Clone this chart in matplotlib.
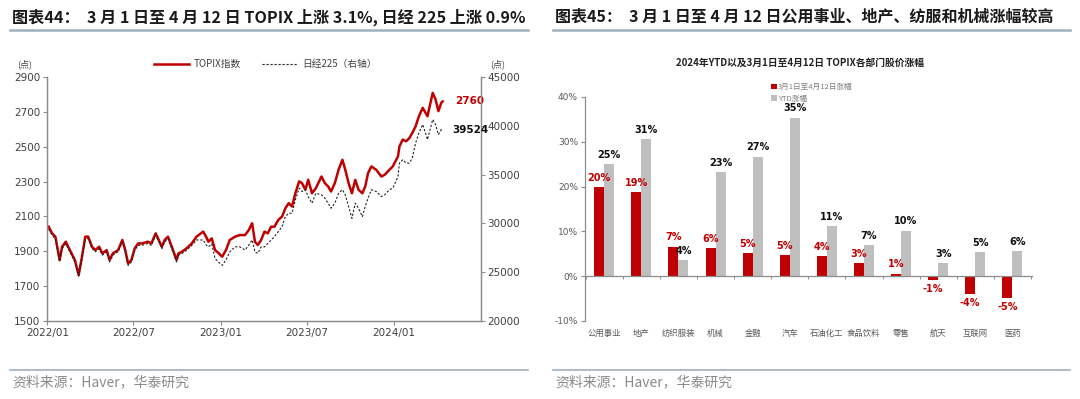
import matplotlib
matplotlib.use("Agg")
import matplotlib.pyplot as plt
import matplotlib.dates as mdates
import matplotlib.transforms as mtransforms
from matplotlib.lines import Line2D
import numpy as np
import pandas as pd

plt.rcParams['font.family'] = ['Noto Sans CJK SC', 'DejaVu Sans']
plt.rcParams['axes.unicode_minus'] = False

# ---- left chart: TOPIX vs Nikkei 225 ----
dates = [
    "2022-01-04", "2022-01-11", "2022-01-18", "2022-01-27", "2022-02-01", "2022-02-09",
    "2022-02-14", "2022-02-21", "2022-02-28", "2022-03-08", "2022-03-15", "2022-03-22",
    "2022-03-28", "2022-04-05", "2022-04-12", "2022-04-20", "2022-04-27", "2022-05-06",
    "2022-05-12", "2022-05-19", "2022-05-30", "2022-06-08", "2022-06-14", "2022-06-20",
    "2022-06-27", "2022-07-04", "2022-07-11", "2022-07-19", "2022-08-01", "2022-08-08",
    "2022-08-17", "2022-08-22", "2022-08-30", "2022-09-05", "2022-09-12", "2022-09-20",
    "2022-09-30", "2022-10-04", "2022-10-11", "2022-10-21", "2022-11-01", "2022-11-11",
    "2022-11-25", "2022-12-01", "2022-12-06", "2022-12-13", "2022-12-20", "2022-12-28",
    "2023-01-04", "2023-01-12", "2023-01-20", "2023-01-31", "2023-02-10", "2023-02-21",
    "2023-03-01", "2023-03-08", "2023-03-14", "2023-03-20", "2023-03-27", "2023-04-03",
    "2023-04-10", "2023-04-17", "2023-04-24", "2023-05-02", "2023-05-10", "2023-05-17",
    "2023-05-24", "2023-05-31", "2023-06-07", "2023-06-15", "2023-06-21", "2023-06-28",
    "2023-07-04", "2023-07-12", "2023-07-20", "2023-08-01", "2023-08-08", "2023-08-15",
    "2023-08-21", "2023-08-29", "2023-09-06", "2023-09-14", "2023-09-20", "2023-09-27",
    "2023-10-04", "2023-10-11", "2023-10-18", "2023-10-26", "2023-11-01", "2023-11-07",
    "2023-11-14", "2023-11-24", "2023-12-05", "2023-12-12", "2023-12-22", "2023-12-29",
    "2024-01-09", "2024-01-12", "2024-01-19", "2024-01-26", "2024-02-02", "2024-02-08",
    "2024-02-15", "2024-02-22", "2024-03-01", "2024-03-11", "2024-03-22", "2024-03-28",
    "2024-04-03", "2024-04-09", "2024-04-12",
]
topix = [
    2041, 2003, 1984, 1849, 1926, 1955, 1926, 1888, 1850, 1763, 1869, 1984,
    1984, 1926, 1907, 1926, 1888, 1907, 1850, 1888, 1907, 1965, 1907, 1830,
    1850, 1917, 1945, 1945, 1955, 1945, 2003, 1974, 1926, 1965, 1984, 1926,
    1850, 1888, 1897, 1917, 1945, 1984, 2013, 1984, 1955, 1974, 1907, 1888,
    1869, 1907, 1965, 1984, 1993, 1993, 2022, 2061, 1955, 1936, 1965, 2013,
    2003, 2041, 2041, 2080, 2099, 2147, 2176, 2157, 2233, 2301, 2291, 2253,
    2310, 2233, 2262, 2329, 2291, 2272, 2243, 2291, 2368, 2425, 2368, 2291,
    2233, 2310, 2253, 2233, 2272, 2349, 2387, 2368, 2329, 2339, 2368, 2387,
    2445, 2502, 2541, 2531, 2550, 2579, 2617, 2675, 2723, 2675, 2809, 2771,
    2704, 2752, 2760,
]
nikkei = [
    29400, 28800, 28400, 26100, 27400, 27900, 27400, 26750, 26050, 24600, 26400, 28400,
    28450, 27450, 27100, 27400, 26750, 27100, 26050, 26750, 27100, 28100, 27100, 25700,
    26050, 27250, 27750, 27750, 27950, 27750, 28800, 28300, 27400, 28100, 28450, 27400,
    26050, 26750, 26900, 27250, 27750, 28300, 28300, 27800, 27600, 27900, 26400, 26000,
    25700, 26250, 27090, 27600, 27600, 27270, 27790, 28300, 27090, 26930, 27600, 27600,
    27950, 28300, 28640, 29160, 29660, 30700, 31040, 31040, 32410, 33610, 33270, 33450,
    32750, 32070, 33090, 32930, 32590, 32070, 31550, 32070, 33090, 33450, 32930, 31730,
    30520, 32070, 31550, 30700, 31730, 32590, 33450, 33270, 32750, 32930, 33450, 33610,
    34800, 36180, 36520, 36180, 36180, 36700, 38230, 39270, 40130, 38590, 40640, 40130,
    39090, 39610, 39524,
]
date_ticks = ["2022-01-01", "2022-07-01", "2023-01-01", "2023-07-01", "2024-01-01"]

# ---- right chart: TOPIX sectors ----
sectors = ["公用事业", "地产", "纺织服装", "机械", "金融", "汽车",
           "石油化工", "食品饮料", "零售", "航天", "互联网", "医药"]
chg_mar_apr = [19.8, 18.7, 6.6, 6.2, 5.1, 4.7, 4.4, 2.9, 0.6, -0.8, -4.0, -4.9]
chg_ytd = [25.0, 30.6, 3.6, 23.2, 26.7, 35.4, 11.1, 7.0, 10.2, 3.0, 5.4, 5.6]

RED = "#C00000"
GRAY_BAR = "#BFBFBF"
AXIS = "#8c8c8c"
TXT = "#404040"
RULE = "#9fb0c0"

fig = plt.figure(figsize=(10.8, 3.99), dpi=100)

# titles and rules
fig.text(12 / 1080, 1 - 17 / 399, "图表44：  3 月 1 日至 4 月 12 日 TOPIX 上涨 3.1%, 日经 225 上涨 0.9%",
         fontsize=11.6, fontweight="bold", color="#1a1a1a", va="center", ha="left")
fig.text(555 / 1080, 1 - 17 / 399, "图表45：  3 月 1 日至 4 月 12 日公用事业、地产、纺服和机械涨幅较高",
         fontsize=11.5, fontweight="bold", color="#1a1a1a", va="center", ha="left")
for x0, x1 in [(10, 528), (553, 1070)]:
    fig.add_artist(Line2D([x0 / 1080, x1 / 1080], [1 - 30 / 399] * 2, color=RULE, lw=1.8))
    fig.add_artist(Line2D([x0 / 1080, x1 / 1080], [1 - 370 / 399] * 2, color=RULE, lw=1.2))
fig.text(12 / 1080, 1 - 382 / 399, "资料来源：Haver，华泰研究", fontsize=10, color="#8a8a8a",
         va="center", ha="left")
fig.text(555 / 1080, 1 - 382 / 399, "资料来源：Haver，华泰研究", fontsize=10, color="#8a8a8a",
         va="center", ha="left")

# ---------- left panel ----------
dt = pd.to_datetime(dates)
ax1 = fig.add_axes([47.3 / 1080, 1 - 321 / 399, (480.7 - 47.3) / 1080, (321 - 77) / 399])
ax1.plot(dt, topix, color=RED, lw=1.8, label="TOPIX指数")
ax1.set_ylim(1500, 2900)
ax1.set_yticks(np.arange(1500, 2901, 200))
ax1.set_xlim(pd.Timestamp("2022-01-01"), pd.Timestamp("2024-07-01"))
ax1.set_xticks(pd.to_datetime(date_ticks))
ax1.xaxis.set_major_formatter(mdates.DateFormatter("%Y/%m"))

ax2 = ax1.twinx()
ax2.plot(dt, nikkei, color="#222222", lw=0.8, dashes=(2, 1.6), label="日经225（右轴）")
ax2.set_ylim(20000, 45000)
ax2.set_yticks(np.arange(20000, 45001, 5000))

for a in (ax1, ax2):
    a.spines["top"].set_visible(False)
    for s in ("left", "right", "bottom"):
        a.spines[s].set_color(AXIS)
        a.spines[s].set_linewidth(0.9)
    a.tick_params(labelsize=7.5, colors=AXIS, labelcolor=TXT, length=3, width=0.8, pad=2)
    for lab in a.get_xticklabels() + a.get_yticklabels():
        lab.set_family(["DejaVu Sans"])

ax1.annotate(f"{topix[-1]}", xy=(dt[-1], topix[-1]), xytext=(9, 0), textcoords="offset points",
             color=RED, fontsize=7.5, fontweight="bold", va="center", ha="left", family=["DejaVu Sans"])
ax2.annotate(f"{nikkei[-1]}", xy=(dt[-1], nikkei[-1]), xytext=(7, 0), textcoords="offset points",
             color="#111111", fontsize=7.5, fontweight="bold", va="center", ha="left", family=["DejaVu Sans"])

h1, l1 = ax1.get_legend_handles_labels()
h2, l2 = ax2.get_legend_handles_labels()
fig.legend(h1 + h2, l1 + l2, loc="center", bbox_to_anchor=(265 / 1080, 1 - 64 / 399), ncol=2,
           frameon=False, fontsize=7, handlelength=3.6, columnspacing=2.2, handletextpad=0.5,
           labelcolor=TXT)
fig.text(17 / 1080, 1 - 64 / 399, "(点)", fontsize=6.5, color=TXT, va="center", ha="left")
fig.text(490 / 1080, 1 - 64 / 399, "(点)", fontsize=6.5, color=TXT, va="center", ha="left")

# ---------- right panel ----------
ax3 = fig.add_axes([585 / 1080, 1 - 321 / 399, (1032 - 585) / 1080, (321 - 97) / 399])
x = np.arange(len(sectors))
w = 0.27
b1 = ax3.bar(x - w / 2, chg_mar_apr, width=w, color=RED, label="3月1日至4月12日涨幅", zorder=2)
b2 = ax3.bar(x + w / 2, chg_ytd, width=w, color=GRAY_BAR, label="YTD涨幅", zorder=2)
ax3.bar_label(b1, labels=[f"{v:.0f}%" for v in chg_mar_apr], padding=3, color=RED,
              fontsize=7, fontweight="bold", family=["DejaVu Sans"])
ax3.bar_label(b2, labels=[f"{v:.0f}%" for v in chg_ytd], padding=3, color="#111111",
              fontsize=7, fontweight="bold", family=["DejaVu Sans"])

ax3.set_ylim(-10, 40)
ax3.set_yticks(np.arange(-10, 41, 10))
ax3.set_yticklabels([f"{v}%" for v in range(-10, 41, 10)], family=["DejaVu Sans"])
ax3.set_xlim(-0.52, 11.53)
ax3.spines["top"].set_visible(False)
ax3.spines["right"].set_visible(False)
ax3.spines["bottom"].set_position(("data", 0))
for s in ("left", "bottom"):
    ax3.spines[s].set_color(AXIS)
    ax3.spines[s].set_linewidth(0.9)
ax3.set_xticks(x)
ax3.set_xticklabels([])
ax3.tick_params(axis="x", which="major", length=0)
ax3.set_xticks(np.arange(-0.5, len(sectors), 1), minor=True)
ax3.tick_params(axis="x", which="minor", length=2.5, width=0.7, colors=AXIS, direction="out")
ax3.tick_params(axis="y", labelsize=6.5, colors=AXIS, labelcolor="#595959", length=3, width=0.8, pad=2)

trans = mtransforms.blended_transform_factory(ax3.transData, ax3.transAxes)
for xi, name in zip(x, sectors):
    ax3.text(xi, -0.054, name, transform=trans, ha="center", va="center", fontsize=6,
             color="#595959")

fig.text(800 / 1080, 1 - 63 / 399, "2024年YTD以及3月1日至4月12日 TOPIX各部门股价涨幅",
         fontsize=7, fontweight="bold", color="#222222", ha="center", va="center")
fig.legend(handles=[b1, b2], loc="upper left", bbox_to_anchor=(766 / 1080, 1 - 78 / 399),
           frameon=False, fontsize=5.5, handlelength=0.7, handleheight=0.7, handletextpad=0.2,
           labelspacing=0.45, borderpad=0.2, labelcolor="#7f7f7f")

fig.savefig("out.png", dpi=100)
